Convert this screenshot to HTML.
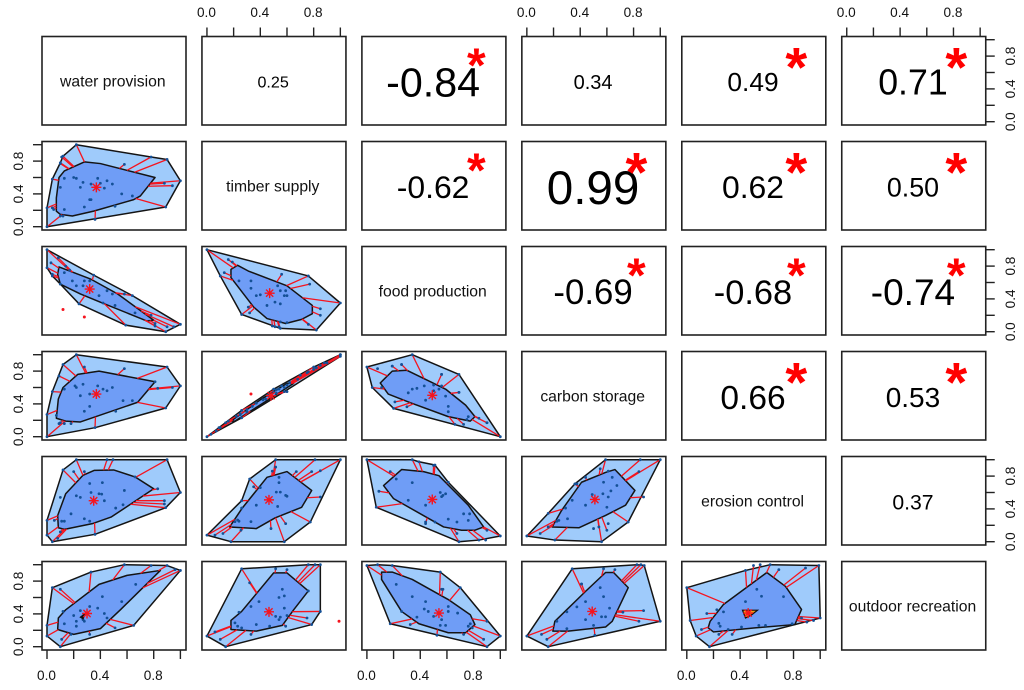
<!DOCTYPE html>
<html lang="en">
<head>
<meta charset="utf-8">
<title>Ecosystem service bagplot pairs matrix</title>
<style>
html,body{margin:0;padding:0;background:#fff;}
svg{display:block;font-family:"Liberation Sans",Arial,sans-serif;filter:blur(0.3px);}
</style>
</head>
<body>
<svg id="chart" width="1024" height="690" viewBox="0 0 1024 690" xmlns="http://www.w3.org/2000/svg"></svg>
<script>
// ---------- labels and correlation values ----------
const variableNames = ["water provision","timber supply","food production","carbon storage","erosion control","outdoor recreation"];
const axisTicks = [0,0.2,0.4,0.6,0.8,1.0];
const axisTickLabels = ["0.0","","0.4","","0.8",""];
const correlations = [
  [null,0.25,-0.84,0.34,0.49,0.71],
  [null,null,-0.62,0.99,0.62,0.50],
  [null,null,null,-0.69,-0.68,-0.74],
  [null,null,null,null,0.66,0.53],
  [null,null,null,null,null,0.37]
];
// 0 = no marker, 1 = small marker, 2 = large marker
const significant = [
  [0,0,1,0,2,2],
  [0,0,1,2,2,2],
  [0,0,0,1,1,1],
  [0,0,0,0,2,2],
  [0,0,0,0,0,0]
];

// ---------- timber supply vs water provision ----------
const tsWpHull = [[0,0],[0,.23],[.04,.58],[.10,.78],[.12,.86],[.22,1],[.78,.85],[.90,.82],[1,.56],[.89,.24]];
const tsWpBag = [[.07,.19],[.07,.35],[.09,.60],[.13,.68],[.28,.79],[.40,.77],[.81,.60],[.70,.375],[.65,.33],[.35,.19],[.19,.13],[.10,.15]];
const tsWpCenter = [.37,.48];
const tsWpPoints = [[.13,.59],[.20,.60],[.22,.59],[.10,.48],[.27,.54],[.25,.48],[.33,.52],[.38,.59],[.40,.53],[.43,.47],[.45,.56],[.49,.52],[.56,.40],[.64,.375],[.32,.33],[.33,.33],[.28,.24],[.13,.21]];
const tsWpSpokes = [[.58,.76],[.94,.50],[.88,.53],[.51,.25],[.36,.09],[.11,.85],[.10,.77],[.04,.23],[.05,.21],[.10,.13],[.12,.13]];
const tsWpOutliers = [];

// ---------- food production vs water provision ----------
const fpWpHull = [[0,1],[.35,.69],[.64,.44],[1,.09],[.89,0],[.59,.08],[.24,.34],[.10,.58],[.04,.68],[0,.78]];
const fpWpBag = [[.09,.79],[.33,.64],[.53,.46],[.80,.14],[.75,.13],[.40,.36],[.25,.46],[.10,.58],[.08,.70]];
const fpWpCenter = [.32,.52];
const fpWpPoints = [[.22,.56],[.27,.56],[.32,.62],[.39,.44],[.45,.50],[.51,.32],[.66,.23],[.28,.62],[.19,.62],[.13,.72],[.42,.35],[.49,.46]];
const fpWpSpokes = [[.085,.90],[.14,.80],[.17,.75],[.03,.84],[.04,.70],[.58,.46],[.78,.20],[.81,.10],[.90,.06],[.95,.06],[.81,.07]];
const fpWpOutliers = [[.12,.27],[.28,.18]];

// ---------- food production vs timber supply ----------
const fpTsHull = [[0,1],[.76,.68],[1,.35],[.82,.02],[.55,.04],[.26,.21],[.10,.68]];
const fpTsBag = [[.23,.81],[.31,.74],[.60,.56],[.79,.32],[.79,.22],[.71,.15],[.59,.10],[.45,.16],[.35,.30],[.18,.66],[.18,.76]];
const fpTsCenter = [.47,.47];
const fpTsPoints = [[.24,.62],[.33,.62],[.33,.53],[.37,.44],[.40,.45],[.51,.36],[.55,.34],[.53,.56],[.55,.50],[.59,.50],[.60,.44],[.58,.44],[.45,.32],[.55,.12],[.60,.11]];
const fpTsSpokes = [[.16,.88],[.19,.85],[.13,.72],[.56,.70],[.77,.58],[.85,.28],[.85,.20],[.76,.09],[.49,.07],[.51,.06],[.54,.06],[.31,.30],[.32,.23]];
const fpTsOutliers = [];

// ---------- carbon storage vs water provision ----------
const csWpHull = [[0,0],[0,.27],[.04,.55],[.12,.88],[.22,1],[.90,.85],[1,.62],[.89,.35],[.36,.11]];
const csWpBag = [[.07,.225],[.085,.46],[.12,.60],[.23,.76],[.39,.80],[.81,.67],[.68,.42],[.25,.18],[.14,.19]];
const csWpCenter = [.37,.52];
const csWpPoints = [[.13,.58],[.21,.62],[.22,.60],[.27,.64],[.25,.50],[.32,.52],[.38,.62],[.42,.58],[.45,.56],[.49,.60],[.57,.44],[.64,.44],[.32,.37],[.28,.31],[.09,.16],[.13,.16],[.81,.67]];
const csWpSpokes = [[.28,.85],[.58,.83],[.09,.74],[.07,.26],[.515,.31],[.94,.60],[.83,.59],[.18,.16],[.10,.17]];
const csWpOutliers = [];

// ---------- carbon storage vs timber supply ----------
const csTsHull = [[0,0],[.26,.32],[.50,.58],[.80,.85],[1,1],[1,.98],[.58,.55],[.26,.23]];
const csTsBag = [[.18,.19],[.40,.45],[.60,.65],[.65,.65],[.45,.44],[.21,.19]];
const csTsCenter = [.48,.50];
const csTsPoints = [[.03,.03],[.09,.11],[.14,.17],[.22,.25],[.25,.27],[.30,.33],[.37,.41],[.42,.45],[.46,.50],[.50,.54],[.52,.57],[.54,.58],[.56,.62],[.58,.60],[.60,.63],[.62,.66],[.68,.70],[.76,.79],[.80,.82],[.85,.87],[.90,.90],[1,1],[.52,.53],[.44,.46],[.34,.37]];
const csTsSpokes = [[.10,.11],[.16,.19],[.25,.28],[.07,.07],[.75,.78],[.82,.84],[.88,.90],[.30,.30],[.70,.75],[.60,.55]];
const csTsOutliers = [[.33,.52]];

// ---------- carbon storage vs food production ----------
const csFpHull = [[0,.85],[.04,.60],[.20,.345],[1,0],[.69,.76],[.34,1]];
const csFpBag = [[.10,.655],[.16,.52],[.325,.415],[.61,.245],[.775,.19],[.81,.245],[.74,.385],[.59,.58],[.30,.81],[.19,.80]];
const csFpCenter = [.49,.505];
const csFpPoints = [[.08,.83],[.26,.88],[.19,.86],[.31,.535],[.34,.58],[.375,.59],[.43,.62],[.5,.63],[.5,.56],[.54,.58],[.56,.62],[.59,.495],[.44,.445],[.61,.37],[.61,.305],[.76,.245],[.75,.21],[.9,.17],[.56,.76],[.69,.54]];
const csFpSpokes = [[.21,.425],[.30,.365],[.19,.86],[.26,.88],[.56,.76],[.69,.54],[.9,.17],[.84,.225],[.66,.15],[.725,.15],[.11,.60]];
const csFpOutliers = [];

// ---------- erosion control vs water provision ----------
const ecWpHull = [[.04,0],[0,.08],[0,.26],[.12,.875],[.22,1],[.90,1],[1,.60],[.89,.415],[.36,.09]];
const ecWpBag = [[.085,.17],[.08,.32],[.14,.585],[.27,.81],[.355,.87],[.50,.875],[.66,.79],[.80,.645],[.62,.45],[.48,.30],[.34,.22],[.13,.15]];
const ecWpCenter = [.35,.50];
const ecWpPoints = [[.22,.56],[.25,.54],[.32,.71],[.415,.72],[.33,.60],[.39,.585],[.41,.58],[.43,.50],[.58,.625],[.515,.41],[.57,.45],[.10,.54],[.11,.25],[.13,.25],[.18,.34],[.28,.28],[.32,.25]];
const ecWpSpokes = [[.495,1],[.45,1],[.28,.855],[.20,.855],[.66,.79],[.88,.50],[.88,.46],[.83,.645],[.055,.26],[.10,.12],[.08,.04]];
const ecWpOutliers = [];

// ---------- erosion control vs timber supply ----------
const ecTsHull = [[0,.08],[.26,.50],[.32,.765],[.515,1],[1,1],[.775,.24],[.58,0],[.18,0]];
const ecTsBag = [[.17,.18],[.26,.40],[.45,.785],[.6,.855],[.785,.625],[.71,.42],[.51,.29],[.37,.16]];
const ecTsCenter = [.465,.51];
const ecTsPoints = [[.26,.41],[.37,.445],[.33,.245],[.23,.265],[.21,.245],[.24,.25],[.54,.785],[.54,.72],[.53,.43],[.59,.565],[.60,.555],[.55,.605],[.52,.605],[.40,.66]];
const ecTsSpokes = [[.515,.91],[.49,.86],[.67,.855],[.785,.855],[.85,.865],[.81,1],[.35,.67],[.85,.545],[.59,.22],[.48,.16],[.255,.14],[.06,.08],[.12,.10]];
const ecTsOutliers = [];

// ---------- erosion control vs food production ----------
const ecFpHull = [[0,1],[.07,.42],[.69,0],[.84,.02],[1,.07],[.61,.725],[.51,.935],[.39,.975],[.34,1]];
const ecFpBag = [[.125,.685],[.2,.525],[.575,.18],[.71,.14],[.81,.14],[.875,.18],[.76,.445],[.54,.805],[.425,.855],[.26,.88]];
const ecFpCenter = [.49,.515];
const ecFpPoints = [[.22,.765],[.34,.72],[.31,.505],[.44,.445],[.55,.6],[.56,.55],[.57,.565],[.59,.585],[.61,.275],[.675,.24],[.725,.34],[.77,.34],[.76,.26],[.51,.24],[.44,.24],[.09,.615]];
const ecFpSpokes = [[.175,.855],[.5,.93],[.09,.615],[.44,.22],[.675,.10],[.89,.02],[.9,.14]];
const ecFpOutliers = [];

// ---------- erosion control vs carbon storage ----------
const ecCsHull = [[0,.07],[.16,.345],[.36,.705],[.59,1],[1,1],[.76,.24],[.56,0],[.21,.02]];
const ecCsBag = [[.19,.18],[.26,.38],[.41,.725],[.59,.845],[.66,.88],[.81,.625],[.74,.445],[.59,.32],[.39,.17]];
const ecCsCenter = [.51,.515];
const ecCsPoints = [[.29,.41],[.34,.505],[.44,.445],[.49,.575],[.575,.725],[.64,.785],[.57,.585],[.61,.545],[.63,.62],[.675,.685],[.6,.42],[.5,.16],[.305,.28],[.24,.26],[.225,.25],[.61,.22],[.375,.705],[.61,.86]];
const ecCsSpokes = [[.55,.89],[.85,1],[.84,.855],[.875,.545],[.54,.18],[.1,.10],[.44,.785],[.16,.18],[.60,.14]];
const ecCsOutliers = [];

// ---------- outdoor recreation vs water provision ----------
const orWpHull = [[.10,0],[0,.13],[0,.26],[.04,.72],[.33,.91],[.58,1],[.90,.99],[1,.93],[.65,.26]];
const orWpBag = [[.08,.21],[.085,.35],[.14,.45],[.39,.76],[.60,.87],[.85,.93],[.55,.45],[.40,.22],[.20,.15]];
const orWpCenter = [.30,.405];
const orWpPoints = [[.12,.43],[.13,.28],[.20,.38],[.22,.31],[.22,.25],[.25,.44],[.32,.49],[.27,.33],[.28,.31],[.38,.47],[.415,.61],[.43,.405],[.45,.35],[.56,.55],[.665,.76]];
const orWpSpokes = [[.10,.70],[.78,.99],[.96,.94],[.51,.23],[.11,.09],[.18,.15],[.32,.15]];
const orWpOutliers = [];
const orWpMedian = [[.25,.36],[.29,.41],[.27,.34]];

// ---------- outdoor recreation vs timber supply ----------
const orTsHull = [[0,.13],[.26,.95],[.76,1],[.85,1],[.85,.43],[.785,.27],[.14,0]];
const orTsBag = [[.18,.21],[.18,.32],[.26,.43],[.50,.90],[.60,.90],[.76,.68],[.65,.45],[.565,.26],[.37,.19]];
const orTsCenter = [.465,.425];
const orTsPoints = [[.33,.49],[.39,.55],[.565,.70],[.54,.60],[.58,.62],[.58,.47],[.515,.37],[.54,.33],[.55,.36],[.60,.38],[.37,.27],[.47,.25],[.21,.29],[.23,.25],[.26,.23],[.24,.42]];
const orTsSpokes = [[.32,.78],[.81,1],[.76,.68],[.75,.35],[.10,.09],[.33,.15],[.59,.25],[.515,.95],[.60,.94],[.06,.18]];
const orTsOutliers = [[.99,.31]];

// ---------- outdoor recreation vs food production ----------
const orFpHull = [[0,.99],[.08,1],[.19,.99],[.55,.91],[.7,.72],[1,.13],[.9,0],[.175,.28]];
const orFpBag = [[.11,.91],[.11,.82],[.26,.43],[.39,.28],[.61,.17],[.74,.17],[.81,.27],[.775,.39],[.61,.575],[.34,.82],[.19,.91]];
const orFpCenter = [.54,.41];
const orFpPoints = [[.22,.76],[.34,.61],[.44,.55],[.43,.46],[.46,.43],[.5,.37],[.61,.49],[.61,.43],[.68,.41],[.56,.33],[.55,.26],[.59,.26],[.775,.28],[.76,.25],[.26,.43],[.375,.36],[.56,.70],[.79,.23]];
const orFpSpokes = [[.875,.09],[.9,.31],[.525,.14],[.325,.27],[.57,.70],[.725,.15]];
const orFpOutliers = [];

// ---------- outdoor recreation vs carbon storage ----------
const orCsHull = [[0,.13],[.34,.95],[.825,1],[.88,.99],[1,.31],[.16,0]];
const orCsBag = [[.195,.19],[.21,.31],[.44,.675],[.59,.905],[.65,.905],[.76,.72],[.64,.31],[.59,.24],[.31,.19]];
const orCsCenter = [.49,.43];
const orCsPoints = [[.3,.425],[.375,.485],[.44,.55],[.55,.72],[.575,.61],[.62,.47],[.56,.365],[.59,.365],[.44,.33],[.5,.26],[.3,.22],[.225,.31],[.41,.765]];
const orCsSpokes = [[.41,.765],[.575,.95],[.66,.94],[.855,1],[.875,.44],[.84,.31],[.11,.15],[.51,.14],[.15,.09],[.72,.42]];
const orCsOutliers = [];

// ---------- outdoor recreation vs erosion control ----------
const orEcHull = [[0,.72],[.44,.93],[.625,1],[.99,.99],[1,.35],[.17,0],[.07,.13],[.025,.32]];
const orEcBag = [[.16,.23],[.175,.31],[.275,.515],[.6,.905],[.74,.735],[.86,.455],[.81,.27],[.51,.23],[.2,.18]];
const orEcCenter = [.46,.41];
const orEcPoints = [[.275,.425],[.225,.45],[.24,.285],[.25,.25],[.31,.21],[.41,.24],[.44,.55],[.525,.70],[.56,.615],[.725,.61],[.54,.26],[.59,.26],[.79,.28]];
const orEcSpokes = [[.5,.99],[.55,1],[.69,.94],[.89,.96],[.86,.35],[.11,.21],[.24,.15],[.34,.15],[.15,.405],[.90,.30],[.95,.32]];
const orEcOutliers = [];
const orEcMedian = [[.4175,.445],[.53,.445],[.4875,.39],[.44,.35]];

const scatterPanels = [
  {row:1,col:0,hull:tsWpHull,bag:tsWpBag,center:tsWpCenter,points:tsWpPoints,spokes:tsWpSpokes,outliers:tsWpOutliers},
  {row:2,col:0,hull:fpWpHull,bag:fpWpBag,center:fpWpCenter,points:fpWpPoints,spokes:fpWpSpokes,outliers:fpWpOutliers},
  {row:2,col:1,hull:fpTsHull,bag:fpTsBag,center:fpTsCenter,points:fpTsPoints,spokes:fpTsSpokes,outliers:fpTsOutliers},
  {row:3,col:0,hull:csWpHull,bag:csWpBag,center:csWpCenter,points:csWpPoints,spokes:csWpSpokes,outliers:csWpOutliers},
  {row:3,col:1,hull:csTsHull,bag:csTsBag,center:csTsCenter,points:csTsPoints,spokes:csTsSpokes,outliers:csTsOutliers},
  {row:3,col:2,hull:csFpHull,bag:csFpBag,center:csFpCenter,points:csFpPoints,spokes:csFpSpokes,outliers:csFpOutliers},
  {row:4,col:0,hull:ecWpHull,bag:ecWpBag,center:ecWpCenter,points:ecWpPoints,spokes:ecWpSpokes,outliers:ecWpOutliers},
  {row:4,col:1,hull:ecTsHull,bag:ecTsBag,center:ecTsCenter,points:ecTsPoints,spokes:ecTsSpokes,outliers:ecTsOutliers},
  {row:4,col:2,hull:ecFpHull,bag:ecFpBag,center:ecFpCenter,points:ecFpPoints,spokes:ecFpSpokes,outliers:ecFpOutliers},
  {row:4,col:3,hull:ecCsHull,bag:ecCsBag,center:ecCsCenter,points:ecCsPoints,spokes:ecCsSpokes,outliers:ecCsOutliers},
  {row:5,col:0,hull:orWpHull,bag:orWpBag,center:orWpCenter,points:orWpPoints,spokes:orWpSpokes,outliers:orWpOutliers,median:orWpMedian,medianFill:"#111111"},
  {row:5,col:1,hull:orTsHull,bag:orTsBag,center:orTsCenter,points:orTsPoints,spokes:orTsSpokes,outliers:orTsOutliers},
  {row:5,col:2,hull:orFpHull,bag:orFpBag,center:orFpCenter,points:orFpPoints,spokes:orFpSpokes,outliers:orFpOutliers},
  {row:5,col:3,hull:orCsHull,bag:orCsBag,center:orCsCenter,points:orCsPoints,spokes:orCsSpokes,outliers:orCsOutliers},
  {row:5,col:4,hull:orEcHull,bag:orEcBag,center:orEcCenter,points:orEcPoints,spokes:orEcSpokes,outliers:orEcOutliers,median:orEcMedian,medianFill:"#f39c12"}
];

// ---------- layout and axis functions ----------
const svg = document.getElementById('chart');
const NS = 'http://www.w3.org/2000/svg';
const LEFT0 = 42, COL_STEP = 159.95, BOX_W = 144;
const TOP0 = 36.5, ROW_STEP = 105, BOX_H = 88.5;
const boxLeft = c => LEFT0 + c * COL_STEP;
const boxTop = r => TOP0 + r * ROW_STEP;
const xScale = (c, v) => boxLeft(c) + 5 + v * 133.4;
const yScale = (r, v) => boxTop(r) + BOX_H - 3.3 - v * 82;

function make(tag, attrs, parent) {
  const el = document.createElementNS(NS, tag);
  for (const k in attrs) el.setAttribute(k, attrs[k]);
  (parent || svg).appendChild(el);
  return el;
}
function polyPoints(list, r, c) {
  return list.map(p => xScale(c, p[0]).toFixed(2) + ',' + yScale(r, p[1]).toFixed(2)).join(' ');
}
// first hit of the segment from an outer point toward the centre with the bag border
function bagHit(p, center, bag) {
  let best = null;
  for (let i = 0; i < bag.length; i++) {
    const a = bag[i], b = bag[(i + 1) % bag.length];
    const dx = center[0] - p[0], dy = center[1] - p[1];
    const ex = b[0] - a[0], ey = b[1] - a[1];
    const den = dx * ey - dy * ex;
    if (Math.abs(den) < 1e-9) continue;
    const t = ((a[0] - p[0]) * ey - (a[1] - p[1]) * ex) / den;
    const u = ((a[0] - p[0]) * dy - (a[1] - p[1]) * dx) / den;
    if (t >= 0 && t <= 1 && u >= 0 && u <= 1 && (best === null || t < best)) best = t;
  }
  return best;
}
function isInside(p, poly) {
  let inside = false;
  for (let i = 0, j = poly.length - 1; i < poly.length; j = i++) {
    const a = poly[i], b = poly[j];
    if ((a[1] > p[1]) !== (b[1] > p[1]) && p[0] < (b[0] - a[0]) * (p[1] - a[1]) / (b[1] - a[1]) + a[0]) inside = !inside;
  }
  return inside;
}

function drawBox(r, c) {
  const el = make('rect', {x: boxLeft(c), y: boxTop(r), width: BOX_W, height: BOX_H, fill: 'none', stroke: '#222', 'stroke-width': 1.6});
  
  
}

function drawScatter(panel) {
  const r = panel.row, c = panel.col;
  const g = make('g', {});
  
  

  const hull = make('polygon', {points: polyPoints(panel.hull, r, c), fill: '#9fcbfb', stroke: '#141414', 'stroke-width': 1.5, 'stroke-linejoin': 'round'}, g);
  
  

  const bag = make('polygon', {points: polyPoints(panel.bag, r, c), fill: '#6f9df6', stroke: '#141414', 'stroke-width': 1.5, 'stroke-linejoin': 'round'}, g);
  
  

  panel.hull.concat(panel.spokes).forEach(p => {
    if (isInside(p, panel.bag)) return;
    const t = bagHit(p, panel.center, panel.bag);
    if (t === null) return;
    const ex = p[0] + (panel.center[0] - p[0]) * t;
    const ey = p[1] + (panel.center[1] - p[1]) * t;
    const ln = make('line', {x1: xScale(c, p[0]), y1: yScale(r, p[1]), x2: xScale(c, ex), y2: yScale(r, ey), stroke: '#f5141e', 'stroke-width': 1.3}, g);
    
    
  });

  panel.points.concat(panel.spokes, panel.hull).forEach(p => {
    const d = make('circle', {cx: xScale(c, p[0]), cy: yScale(r, p[1]), r: 1.4, fill: '#145096'}, g);
    
    
  });

  panel.outliers.forEach(p => {
    const d = make('circle', {cx: xScale(c, p[0]), cy: yScale(r, p[1]), r: 1.5, fill: '#f5141e'}, g);
    
    
  });

  if (panel.median) {
    const m = make('polygon', {points: polyPoints(panel.median, r, c), fill: panel.medianFill, stroke: '#111', 'stroke-width': 1.2}, g);
    
    
  }

  const cx = xScale(c, panel.center[0]), cy = yScale(r, panel.center[1]);
  const star = make('path', {d: `M${cx-5} ${cy}H${cx+5}M${cx} ${cy-5}V${cy+5}M${cx-3.6} ${cy-3.6}L${cx+3.6} ${cy+3.6}M${cx-3.6} ${cy+3.6}L${cx+3.6} ${cy-3.6}`, stroke: '#f5141e', 'stroke-width': 1.4, fill: 'none'}, g);
  
  
}

function drawXAxis(c, side) {
  const g = make('g', {});
  
  
  const y0 = side === 'top' ? boxTop(0) : boxTop(5) + BOX_H;
  const y1 = side === 'top' ? y0 - 9 : y0 + 9;
  const ty = side === 'top' ? 17 : 680;
  axisTicks.forEach((v, i) => {
    const x = xScale(c, v);
    const t = make('line', {x1: x, x2: x, y1: y0, y2: y1, stroke: '#222', 'stroke-width': 1.4}, g);
    
    
    if (axisTickLabels[i]) {
      const l = make('text', {x: x - 0.5, y: ty, 'font-size': 13.6, 'text-anchor': 'middle', fill: '#111'}, g);
      
      
      l.textContent = axisTickLabels[i];
    }
  });
}

function drawYAxis(r, side) {
  const g = make('g', {});
  
  
  const x0 = side === 'left' ? boxLeft(0) : boxLeft(5) + BOX_W;
  const x1 = side === 'left' ? x0 - 9 : x0 + 9;
  const tx = side === 'left' ? 23 : 1015;
  axisTicks.forEach((v, i) => {
    const y = yScale(r, v);
    const t = make('line', {x1: x0, x2: x1, y1: y, y2: y, stroke: '#222', 'stroke-width': 1.4}, g);
    
    
    if (axisTickLabels[i]) {
      const l = make('text', {x: tx, y: y, 'font-size': 13.6, 'text-anchor': 'middle', fill: '#111', transform: `rotate(-90 ${tx} ${y})`}, g);
      
      
      l.textContent = axisTickLabels[i];
    }
  });
}

// ---------- render ----------
variableNames.forEach((name, i) => {
  const cx = boxLeft(i) + BOX_W / 2 - 1.2, cy = boxTop(i) + BOX_H / 2;
  const t = make('text', {x: cx, y: cy + 5.5, 'font-size': 15.7, 'text-anchor': 'middle', fill: '#111'});
  
  
  t.textContent = name;
});

correlations.forEach((rowValues, r) => {
  rowValues.forEach((value, c) => {
    if (value === null) return;
    const size = 5.5 + 42.5 * Math.abs(value);
    const cx = boxLeft(c) + BOX_W / 2 - 0.8, cy = boxTop(r) + BOX_H / 2;
    const t = make('text', {x: cx, y: cy + 1 + size * 0.358, 'font-size': size.toFixed(1), 'text-anchor': 'middle', fill: '#000'});
    
    
    t.textContent = value.toFixed(2);
    const mark = significant[r][c];
    if (mark) {
      const starSize = mark === 2 ? 56 : 48;
      const starCy = boxTop(r) + (mark === 2 ? 20.5 : 19.5);
      const s = make('text', {x: boxLeft(c) + 114.5, y: starCy + starSize * 0.53, 'font-size': starSize, 'font-weight': 'bold', 'text-anchor': 'middle', fill: '#ff0000'});
      
      
      s.textContent = '*';
    }
  });
});

scatterPanels.forEach(drawScatter);

for (let r = 0; r < 6; r++) for (let c = 0; c < 6; c++) drawBox(r, c);

[1, 3, 5].forEach(c => drawXAxis(c, 'top'));
[0, 2, 4].forEach(c => drawXAxis(c, 'bottom'));
[1, 3, 5].forEach(r => drawYAxis(r, 'left'));
[0, 2, 4].forEach(r => drawYAxis(r, 'right'));
</script>
</body>
</html>
